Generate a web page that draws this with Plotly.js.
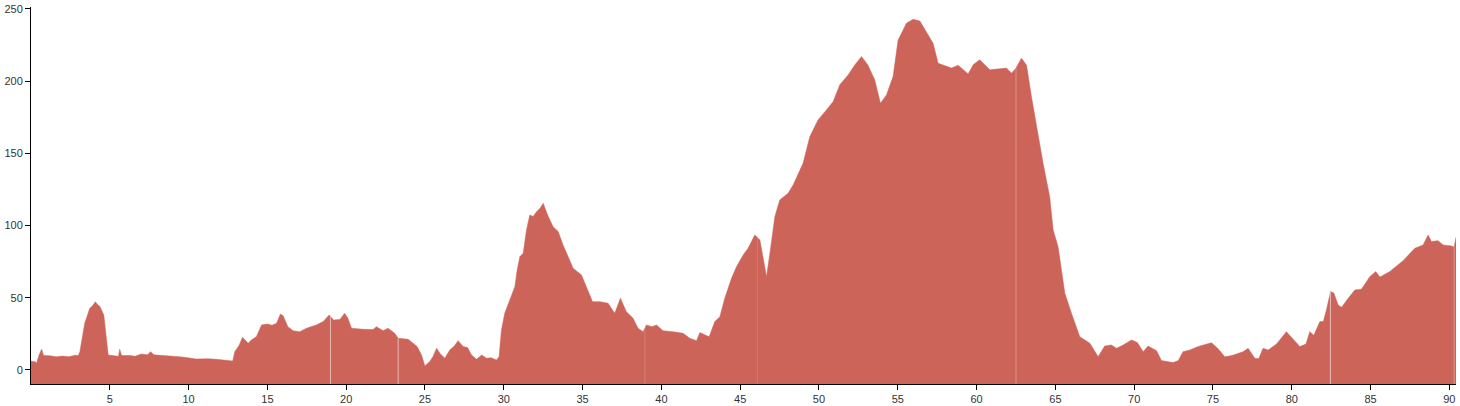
<!DOCTYPE html>
<html>
<head>
<meta charset="utf-8">
<script src="https://cdn.plot.ly/plotly-3.0.1.min.js"></script>
<style>
  html, body { margin: 0; padding: 0; background: #fff; }
  #chart { width: 1460px; height: 406px; }
</style>
</head>
<body>
<div id="chart"></div>
<script>
// Distance along route (km)
const distance = [
  0, 0.3, 0.35, 0.5, 0.67, 0.8, 1.2, 1.6, 2.0, 2.4, 2.8, 3.0, 3.1, 3.41, 3.73, 3.9, 4.09, 4.2, 4.37, 4.5, 4.62, 4.9,
  5.3, 5.55, 5.63, 5.75, 6.3, 6.6, 7.0, 7.4, 7.58, 7.8, 8.38, 9.0, 9.6, 10.5, 11.2, 11.77, 12.4, 12.8,
  12.93, 13.2, 13.42, 13.78, 14.0, 14.3, 14.63, 15.0, 15.3, 15.58, 15.83, 16.0, 16.3, 16.63, 17.05, 17.48,
  18.1, 18.54, 18.92, 19.2, 19.6, 19.9, 20.1, 20.34, 21.07, 21.7, 21.92, 22.34, 22.65, 23.08, 23.3, 23.93,
  24.25, 24.5, 24.78, 24.99, 25.3, 25.5, 25.74, 25.95, 26.26, 26.57, 26.85, 27.1, 27.42, 27.7, 27.95, 28.27,
  28.6, 28.9, 29.2, 29.54, 29.7, 29.85, 30.06, 30.38, 30.7, 30.85, 31.02, 31.23, 31.44, 31.65, 31.86, 32.08,
  32.3, 32.5, 32.82, 33.13, 33.45, 33.76, 34.08, 34.4, 34.93, 35.25, 35.63, 36.1, 36.62, 37.04, 37.4, 37.78,
  38.2, 38.52, 38.84, 39.05, 39.4, 39.69, 40.1, 40.74, 41.38, 41.8, 42.23, 42.44, 42.7, 43.03, 43.39, 43.71,
  44.02, 44.45, 44.77, 45.19, 45.5, 45.93, 46.25, 46.46, 46.67, 46.9, 47.09, 47.2, 47.51, 48.04, 48.36, 48.99,
  49.42, 49.94, 50.47, 50.9, 51.32, 51.85, 52.27, 52.7, 53.1, 53.54, 53.9, 54.28, 54.7, 55.02, 55.55, 55.97,
  56.4, 56.82, 57.24, 57.56, 57.98, 58.41, 58.83, 59.15, 59.46, 59.8, 60.2, 60.84, 61.3, 61.9, 62.22, 62.5,
  62.85, 63.17, 63.48, 63.8, 64.22, 64.64, 64.86, 65.17, 65.6, 66.02, 66.55, 67.19, 67.71, 68.13, 68.55, 68.88,
  69.3, 69.83, 70.2, 70.57, 70.88, 71.42, 71.73, 72.47, 72.8, 73.1, 73.53, 74.06, 74.9, 75.3, 75.75, 76.2,
  76.91, 77.23, 77.65, 77.9, 78.18, 78.5, 79.03, 79.66, 80.09, 80.51, 80.9, 81.14, 81.4, 81.78, 82.0, 82.2,
  82.46, 82.67, 82.94, 83.16, 83.58, 84.0, 84.42, 84.95, 85.33, 85.59, 86.22, 87.06, 87.81, 88.33, 88.65, 88.86,
  89.28, 89.6, 90.14, 90.3, 90.42
];

// Elevation (m)
const elevation = [
  6.2, 5.5, 4.6, 10, 14.3, 10, 9.9, 9.2, 9.6, 9.2, 10.2, 10, 12.7, 32.3, 42.7, 44.5, 47.3, 45.5, 44, 41, 38, 10.4,
  9.7, 9.5, 14.3, 10, 10, 9.5, 11, 10.5, 12.7, 10.5, 10, 9.5, 9.0, 7.6, 7.8, 7.4, 6.8, 6.2,
  12.7, 17, 22.6, 18.5, 21, 23, 31.2, 31.8, 31, 32.3, 38.8, 37.5, 30, 27.2, 26.5, 28.9,
  31.2, 33.5, 38.1, 34.6, 35, 39.3, 36, 28.9, 28.2, 28, 30, 27.2, 28.9, 25.4, 21.9, 21.3,
  18.5, 16.2, 10.4, 2.8, 5.8, 9.2, 15, 11.5, 8.1, 13.8, 16.5, 20.3, 16.2, 15.5, 10.4, 7.4,
  10.4, 8.1, 8.5, 6.9, 9.2, 27.7, 39.3, 48.5, 57.7, 69.3, 78.5, 80.8, 97, 107.3, 106.2, 109.6,
  112, 115.4, 106.2, 99.2, 95.8, 86.6, 78.5, 70.4, 65.8, 57.7, 47.3, 47.3, 46.2, 39.3, 49.6, 40.4,
  35.8, 28.9, 26.5, 31.2, 30, 31.2, 27.2, 26.5, 25.4, 21.9, 20.3, 25.9, 24.5, 23, 33.5, 36.9,
  49.6, 63.5, 71.6, 79.6, 84.3, 93.5, 90, 77.3, 64.6, 82, 99.2, 106.2, 117.7, 122.4, 128.1, 143.1,
  161.6, 173.1, 180, 185.8, 197.4, 204.3, 211.2, 217, 211.2, 200.8, 184.7, 190.4, 203.1, 228.5, 240, 242.8,
  241.6, 234.3, 226.2, 212.4, 210.8, 209, 211, 208, 205, 211.5, 214.7, 207.8, 208.5, 209, 205.5, 209,
  215.9, 211, 189.3, 168.5, 143.1, 120, 97, 85.4, 53.1, 39.3, 23, 18.5, 9.2, 16.6, 17.3, 15,
  17.3, 20.8, 19, 12.7, 16.6, 13.4, 6.5, 5.1, 6.5, 12.7, 13.8, 16.2, 18.9, 15, 9.2, 10,
  12.7, 15, 8.1, 7.8, 15, 13.8, 18, 26.5, 21.2, 16.2, 18, 26.5, 24, 33.5, 33.5, 41.6,
  54.3, 53.3, 45, 43.4, 49.6, 55.4, 55.9, 64.6, 68.1, 64.3, 68.1, 75.7, 84.3, 86.6, 93.5, 88.9,
  89.5, 86.6, 85.9, 85, 91.9
];

// Boundaries between route segments (km)
const segmentBreaks = [19.0, 23.3, 38.95, 46.1, 62.5, 82.45, 90.3];
const segmentOpacity = [0.55, 0.55, 0.15, 0.12, 0.3, 0.6, 0.3];

const xTicks = [5, 10, 15, 20, 25, 30, 35, 40, 45, 50, 55, 60, 65, 70, 75, 80, 85, 90];
const yTicks = [0, 50, 100, 150, 200, 250];

const yRange = [-9.7, 251.3];
const xRange = [0, distance[distance.length - 1]];

function elevAt(x) {
  for (let i = 1; i < distance.length; i++) {
    if (distance[i] >= x) {
      const t = (x - distance[i - 1]) / (distance[i] - distance[i - 1]);
      return elevation[i - 1] + t * (elevation[i] - elevation[i - 1]);
    }
  }
  return elevation[elevation.length - 1];
}

const fillColor = '#cd6459';

const baseline = {
  x: distance,
  y: distance.map(() => yRange[0]),
  type: 'scatter', mode: 'lines',
  line: { width: 0, color: fillColor },
  hoverinfo: 'skip', showlegend: false
};
const profile = {
  x: distance,
  y: elevation,
  type: 'scatter', mode: 'lines',
  fill: 'tonexty',
  fillcolor: fillColor,
  line: { width: 0.5, color: fillColor },
  showlegend: false
};

const shapes = segmentBreaks.map((b, i) => ({
  type: 'line', xref: 'x', yref: 'y',
  x0: b, x1: b, y0: yRange[0], y1: elevAt(b),
  line: { color: 'rgba(255,255,255,' + segmentOpacity[i] + ')', width: 1 }
}));

const axisFont = { family: 'Liberation Sans, Arial, sans-serif', size: 11, color: '#333' };

const layout = {
  width: 1460, height: 406,
  margin: { l: 31, r: 4, t: 7, b: 22, pad: 0 },
  paper_bgcolor: '#fff', plot_bgcolor: '#fff',
  showlegend: false,
  shapes: shapes,
  xaxis: {
    range: xRange, showgrid: false, zeroline: false,
    showline: true, linecolor: '#000', linewidth: 1,
    ticks: 'outside', ticklen: 5, tickcolor: '#000', tickwidth: 1,
    tickmode: 'array', tickvals: xTicks, ticktext: xTicks.map(String),
    tickfont: axisFont
  },
  yaxis: {
    range: yRange, showgrid: false, zeroline: false,
    showline: true, linecolor: '#000', linewidth: 1,
    ticks: 'outside', ticklen: 5, tickcolor: '#000', tickwidth: 1,
    tickmode: 'array', tickvals: yTicks, ticktext: yTicks.map(String),
    tickfont: axisFont
  }
};

Plotly.newPlot('chart', [baseline, profile], layout, { displayModeBar: false, staticPlot: true });
</script>
</body>
</html>
